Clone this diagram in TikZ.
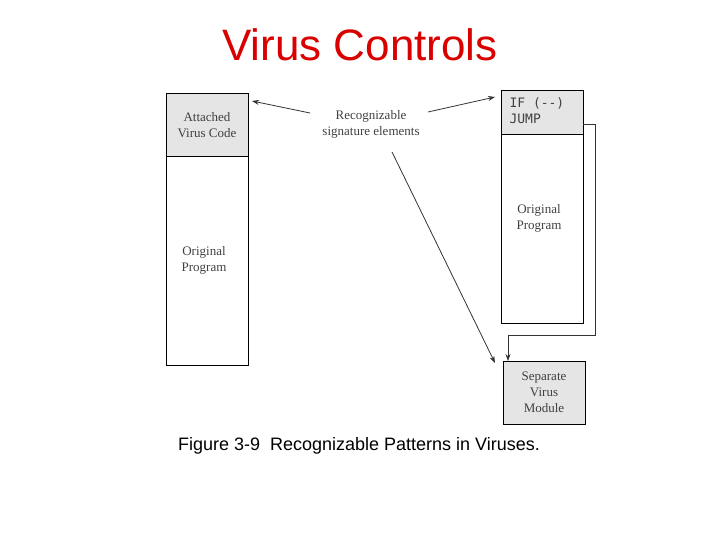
\documentclass[tikz,border=0pt]{standalone}
\usepackage{fontspec}
\setmainfont{Liberation Serif}
\newfontfamily\arialf{Liberation Sans}
\newfontfamily\monof{DejaVu Sans Mono}
\usetikzlibrary{arrows.meta}
\begin{document}
\begin{tikzpicture}[x=1pt,y=-1pt,
  box/.style={draw,line width=0.8pt},
  hdr/.style={draw,line width=0.8pt,fill=gray!20},
  lbl/.style={font=\fontsize{13}{16}\selectfont,text=black!75,align=center},
  arr/.style={-{Stealth[length=7pt,width=5pt]},line width=0.8pt,black!80}]
\useasboundingbox (0,0) rectangle (720,540);
\node[font=\arialf\fontsize{44}{48}\selectfont,text=red!85!black] (title) at (360,45) {Virus Controls};
\draw[hdr] (166,93) rectangle (248,156);
\draw[box] (166,156) rectangle (248,365);
\node[lbl] (att) at (207,125) {Attached\\Virus Code};
\node[lbl] (op1) at (204,260) {Original\\Program};
\draw[hdr] (501,90) rectangle (583,134);
\draw[box] (501,134) rectangle (583,323);
\node[font=\monof\fontsize{13}{16}\selectfont,align=left,text=black!75,anchor=north west] (ifj) at (506,94) {IF (--)\\JUMP};
\node[lbl] (op2) at (539,218) {Original\\Program};
\draw[hdr] (503,361) rectangle (585,424);
\node[lbl] (mod) at (544,392) {Separate\\Virus\\Module};
\node[lbl] (sig) at (371,124) {Recognizable\\signature elements};
\coordinate (a1) at (252,101);
\coordinate (a2) at (495,97);
\coordinate (a3) at (495,363);
\coordinate (s1) at (310,113);
\coordinate (s2) at (428,112);
\coordinate (s3) at (392,152);
\draw[arr] (s1) -- (a1);
\draw[arr] (s2) -- (a2);
\draw[arr] (s3) -- (a3);
\coordinate (j0) at (583,124);
\coordinate (j1) at (508,361);
\draw[arr,line width=0.6pt] (j0) -- (595,124) -- (595,335) -- (508,335) -- (j1);
\node[font=\arialf\fontsize{18}{20}\selectfont] (cap) at (359,446) {Figure 3-9\ \ Recognizable Patterns in Viruses.};
\end{tikzpicture}
\end{document}
